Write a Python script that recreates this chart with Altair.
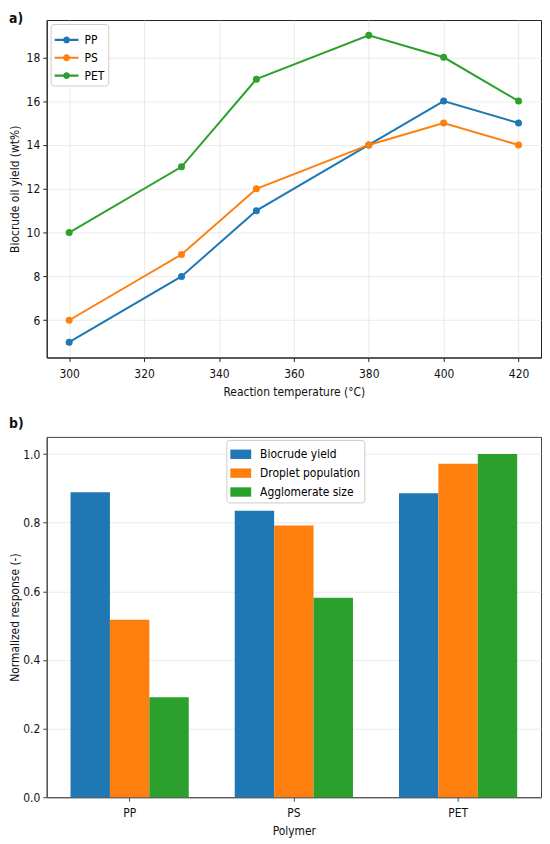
import altair as alt
import pandas as pd

# ---------- data: panel a ----------
temps = [300, 330, 350, 380, 400, 420]
pp_yield = [5, 8, 11, 14, 16, 15]
ps_yield = [6, 9, 12, 14, 15, 14]
pet_yield = [10, 13, 17, 19, 18, 16]
series_a = ["PP", "PS", "PET"]
x_ticks_a = [300, 320, 340, 360, 380, 400, 420]
y_ticks_a = [6, 8, 10, 12, 14, 16, 18]

# ---------- data: panel b ----------
polymers = ["PP", "PS", "PET"]
metrics = ["Biocrude yield", "Droplet population", "Agglomerate size"]
biocrude = [0.889, 0.835, 0.886]
droplet = [0.517, 0.792, 0.972]
agglom = [0.291, 0.581, 1.0]
y_ticks_b = [0.0, 0.2, 0.4, 0.6, 0.8, 1.0]

colors = ["#1f77b4", "#ff7f0e", "#2ca02c"]
FONT = "DejaVu Sans Condensed, DejaVu Sans"

rows_a = []
for name, vals in zip(series_a, [pp_yield, ps_yield, pet_yield]):
    for t, v in zip(temps, vals):
        rows_a.append({"temp": t, "yield": v, "polymer": name})
df_a = pd.DataFrame(rows_a)

rows_b = []
for metric, vals in zip(metrics, [biocrude, droplet, agglom]):
    for p, v in zip(polymers, vals):
        rows_b.append({"polymer": p, "metric": metric, "value": v})
df_b = pd.DataFrame(rows_b)

LINE_DOT = ("M-1,-0.085L1,-0.085L1,0.085L-1,0.085Z "
            "M-0.29,0A0.29,0.29 0 1,1 0.29,0A0.29,0.29 0 1,1 -0.29,0Z")
RECT = "M-1,-0.45L1,-0.45L1,0.45L-1,0.45Z"

FRAME_A = "#222222"
FRAME_B = "#444444"

# ---------- panel a ----------
xa = alt.X("temp:Q",
           scale=alt.Scale(domain=[294, 426], nice=False, zero=False),
           axis=alt.Axis(title="Reaction temperature (°C)", values=x_ticks_a,
                         grid=True, domainColor=FRAME_A, tickColor=FRAME_A,
                         labelPadding=7, titlePadding=7))
ya = alt.Y("yield:Q",
           scale=alt.Scale(domain=[4.3, 19.7], nice=False, zero=False),
           axis=alt.Axis(title="Biocrude oil yield (wt%)", values=y_ticks_a,
                         grid=True, domainColor=FRAME_A, tickColor=FRAME_A,
                         labelPadding=3, titlePadding=4, minExtent=21, maxExtent=21))

lines = alt.Chart(df_a).mark_line(strokeWidth=2).encode(
    x=xa, y=ya,
    stroke=alt.Stroke("polymer:N", scale=alt.Scale(domain=series_a, range=colors),
                      sort=series_a, legend=None),
    detail="polymer:N",
)
points = alt.Chart(df_a).mark_point(filled=True, size=50, opacity=1).encode(
    x=xa, y=ya,
    color=alt.Color("polymer:N", scale=alt.Scale(domain=series_a, range=colors),
                    sort=series_a,
                    legend=alt.Legend(title=None, orient="top-left", offset=4,
                                      padding=4, symbolType=LINE_DOT, symbolSize=576,
                                      symbolStrokeWidth=0, symbolOpacity=1,
                                      labelFont=FONT, labelFontSize=12, labelOffset=6,
                                      rowPadding=0, strokeColor="#cccccc",
                                      fillColor="white", cornerRadius=3)),
)
chart_a = alt.layer(lines, points).properties(
    width=498, height=340,
    title=alt.TitleParams("a)", anchor="start", frame="bounds", fontSize=14,
                          fontWeight="bold", font=FONT, offset=-6, color="#111111"),
    view=alt.ViewBackground(stroke=FRAME_A, strokeWidth=1),
)

# ---------- panel b ----------
bars = alt.Chart(df_b).mark_bar().encode(
    x=alt.X("polymer:N", sort=polymers,
            scale=alt.Scale(paddingInner=0.28, paddingOuter=0.145),
            axis=alt.Axis(title="Polymer", labelAngle=0, grid=False,
                          domainColor=FRAME_B, tickColor=FRAME_B,
                          labelPadding=6, titlePadding=8)),
    xOffset=alt.XOffset("metric:N", sort=metrics,
                        scale=alt.Scale(paddingInner=0, paddingOuter=0)),
    y=alt.Y("value:Q", scale=alt.Scale(domain=[0, 1.05], nice=False),
            axis=alt.Axis(title="Normalized response (-)", values=y_ticks_b,
                          format=".1f", grid=True, domainColor=FRAME_B,
                          tickColor=FRAME_B, labelPadding=3, titlePadding=4,
                          minExtent=21, maxExtent=21)),
    color=alt.Color("metric:N", sort=metrics,
                    scale=alt.Scale(domain=metrics, range=colors),
                    legend=alt.Legend(title=None, orient="none", legendX=181, legendY=3,
                                      padding=4, symbolType=RECT, symbolSize=441,
                                      symbolStrokeWidth=0, symbolOpacity=1,
                                      labelFont=FONT, labelFontSize=12, labelOffset=9,
                                      rowPadding=2, strokeColor="#cccccc",
                                      fillColor="white", cornerRadius=3)),
)
chart_b = bars.properties(
    width=498, height=363,
    title=alt.TitleParams("b)", anchor="start", frame="bounds", fontSize=14,
                          fontWeight="bold", font=FONT, offset=6, color="#111111"),
    view=alt.ViewBackground(stroke=FRAME_B, strokeWidth=1),
)

chart = alt.vconcat(chart_a, chart_b, spacing=18).resolve_scale(
    color="independent"
).resolve_legend(
    color="independent"
).properties(
    padding={"left": 0, "top": 0, "right": 0, "bottom": 0}
).configure_axis(
    labelFont=FONT, titleFont=FONT, labelFontSize=12, titleFontSize=12,
    labelColor="#111111", titleColor="#111111", titleFontWeight="normal",
    tickSize=4, gridColor="#e4e4e4", gridWidth=0.8,
)

chart.save("out.html", embed_options={"renderer": "svg", "actions": False})
